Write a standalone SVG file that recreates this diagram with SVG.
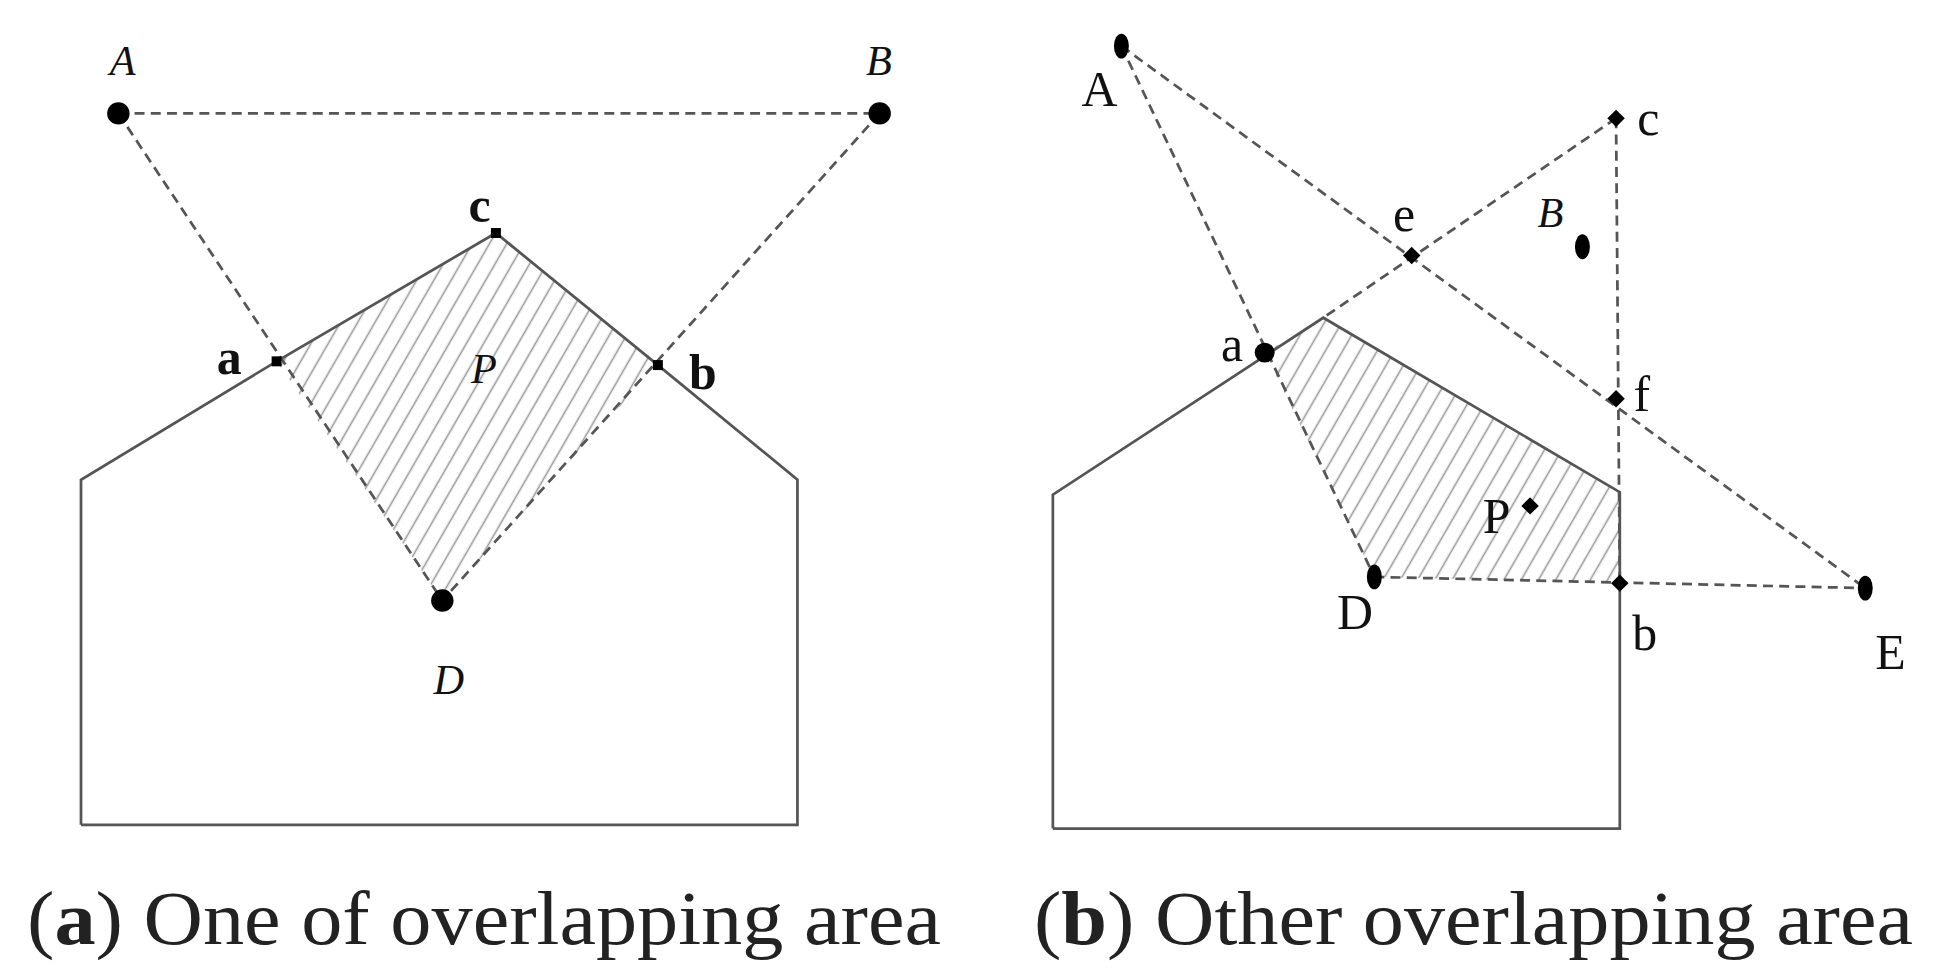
<svg xmlns="http://www.w3.org/2000/svg" width="1944" height="972" viewBox="0 0 1944 972">
<style>
.wall{fill:none;stroke:#555;stroke-width:2.2}
.dash{fill:none;stroke:#555;stroke-width:2.2;stroke-dasharray:8,5}
.lbl{font-family:"Liberation Serif",serif;font-size:40px;fill:#111}
.it{font-style:italic;font-size:34px}
.bd{font-weight:bold}
.cap{font-family:"Liberation Serif",serif;font-size:76px;fill:#222}
</style>
<defs>
<pattern id="hatch" width="12" height="12" patternUnits="userSpaceOnUse" patternTransform="rotate(30)">
<line x1="6" y1="0" x2="6" y2="12" stroke="#999" stroke-width="1.3"/>
</pattern>
</defs>
<rect width="1944" height="972" fill="#fff"/>
<g transform="scale(1.246)">
<g id="panel-a">
<polygon points="222,290 398,187 528,293 355,482" fill="url(#hatch)"/>
<polyline class="wall" points="65,662 65,385 222,290 398,187 528,293 640,385 640,662 65,662"/>
<g id="conn-a">
<line class="dash" x1="95" y1="91" x2="706" y2="91"/>
<line class="dash" x1="95" y1="91" x2="355" y2="482"/>
<line class="dash" x1="706" y1="91" x2="355" y2="482"/>
</g>
<circle cx="95" cy="91" r="9" fill="#000"/>
<circle cx="706" cy="91" r="9" fill="#000"/>
<circle cx="355" cy="482" r="9" fill="#000"/>
<rect x="218" y="286" width="8" height="8" fill="#000"/>
<rect x="394" y="183" width="8" height="8" fill="#000"/>
<rect x="524" y="289" width="8" height="8" fill="#000"/>
<text class="lbl it" x="88" y="60">A</text>
<text class="lbl it" x="695" y="60">B</text>
<text class="lbl bd" x="376" y="178">c</text>
<text class="lbl bd" x="174" y="300">a</text>
<text class="lbl bd" x="553" y="312">b</text>
<text class="lbl it" x="378" y="307">P</text>
<text class="lbl it" x="348" y="557">D</text>
</g>
<g id="panel-b">
<polygon points="1015,283 1062,255 1300,395 1300,468 1103,463" fill="url(#hatch)"/>
<polyline class="wall" points="845,665 845,397 1062,255 1300,395 1300,665 845,665"/>
<g id="conn-b">
<line class="dash" x1="900" y1="37" x2="1103" y2="463"/>
<line class="dash" x1="900" y1="37" x2="1497" y2="472"/>
<line class="dash" x1="1297" y1="95" x2="1062" y2="255"/>
<line class="dash" x1="1297" y1="95" x2="1300" y2="468"/>
<line class="dash" x1="1103" y1="463" x2="1497" y2="472"/>
</g>
<ellipse cx="900" cy="37" rx="6" ry="10" fill="#000"/>
<ellipse cx="1270" cy="198" rx="6" ry="10" fill="#000"/>
<ellipse cx="1103" cy="463" rx="6" ry="10" fill="#000"/>
<ellipse cx="1497" cy="472" rx="6" ry="10" fill="#000"/>
<ellipse cx="1015" cy="283" rx="8" ry="8" fill="#000"/>
<polygon points="1297,88 1304,95 1297,102 1290,95" fill="#000"/>
<polygon points="1133,198 1140,205 1133,212 1126,205" fill="#000"/>
<polygon points="1297,313 1304,320 1297,327 1290,320" fill="#000"/>
<polygon points="1300,461 1307,468 1300,475 1293,468" fill="#000"/>
<polygon points="1228,399 1235,406 1228,413 1221,406" fill="#000"/>
<text class="lbl" x="868" y="85">A</text>
<text class="lbl" x="1314" y="108">c</text>
<text class="lbl" x="1118" y="185">e</text>
<text class="lbl it" x="1234" y="182">B</text>
<text class="lbl" x="980" y="290">a</text>
<text class="lbl" x="1311" y="330">f</text>
<text class="lbl" x="1190" y="428">P</text>
<text class="lbl" x="1073" y="505">D</text>
<text class="lbl" x="1310" y="522">b</text>
<text class="lbl" x="1505" y="537">E</text>
</g>
</g>
<text class="cap" x="27" y="944" textLength="914" lengthAdjust="spacingAndGlyphs">(<tspan font-weight="bold">a</tspan>) One of overlapping area</text>
<text class="cap" x="1034" y="944" textLength="879" lengthAdjust="spacingAndGlyphs">(<tspan font-weight="bold">b</tspan>) Other overlapping area</text>
</svg>
